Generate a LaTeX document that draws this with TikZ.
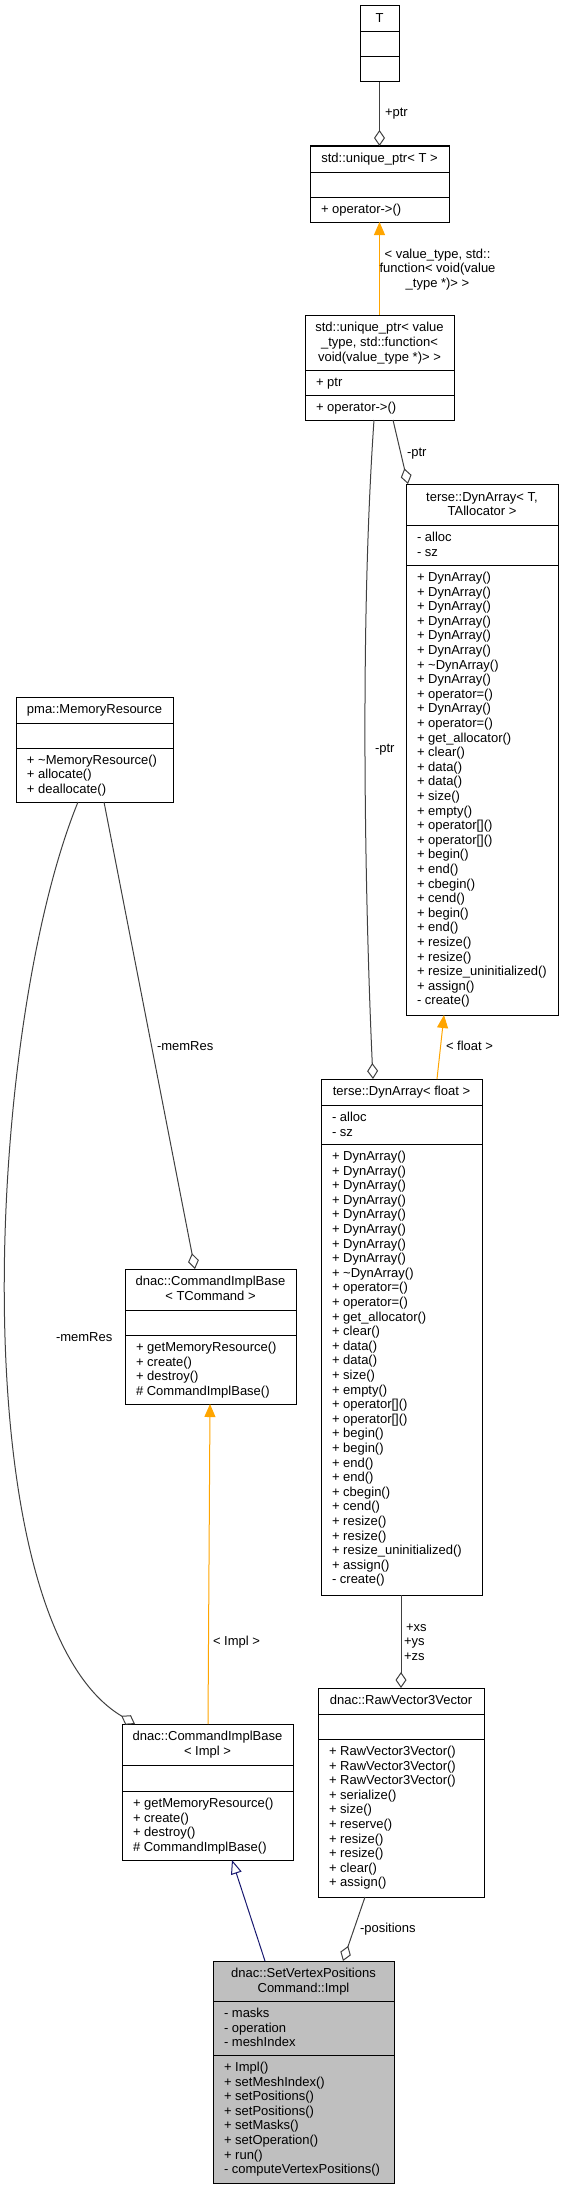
\documentclass[tikz,border=0pt]{standalone}
\usepackage{fontspec}
\setmainfont{Liberation Sans}
\usetikzlibrary{arrows.meta,calc}
\definecolor{dgray}{HTML}{404040}
\definecolor{orng}{HTML}{FFA500}
\definecolor{navy}{HTML}{191970}
\definecolor{svgray}{HTML}{BFBFBF}
\newcommand{\fs}{\fontsize{13}{14.6}\selectfont}
\newcounter{lc}
\tikzset{
  lbl/.style={inner sep=0pt, outer sep=0pt, font=\fs, anchor=base west},
  ctr/.style={lbl, anchor=base},
  umlbox/.style={draw=black, line width=1pt, inner sep=0pt, outer sep=0pt},
  conn/.style={draw=dgray, line width=1pt},
  agg/.style={conn, -{Diamond[open, length=16pt, width=11pt]}},
  tmpl/.style={draw=orng, line width=1pt, -{Triangle[length=13pt, width=11pt, fill=orng]}},
  inh/.style={draw=navy, line width=1pt, -{Triangle[open, length=14pt, width=11pt]}},
}
% name, x1, y1, x2, y2, sep1, sep2, fill
\newcommand{\cls}[8]{%
  \node[umlbox, fill=#8, minimum width={(#4-#2)*1pt}, minimum height={(#5-#3)*1pt}] (#1) at ({(#2+#4)/2},{(#3+#5)/2}) {};
  \draw[line width=1pt] (#1.west |- 0,#6) -- (#1.east |- 0,#6);
  \draw[line width=1pt] (#1.west |- 0,#7) -- (#1.east |- 0,#7);
}
\newcommand{\ttl}[3]{\stepcounter{lc}\node[ctr] (l\arabic{lc}) at (#1,#2) {#3};}
\newcommand{\mem}[3]{\stepcounter{lc}\node[lbl] (l\arabic{lc}) at (#1,#2) {#3};}
% x, first baseline, list
\newcommand{\lines}[3]{%
  \foreach \s [count=\i from 0] in {#3} {%
    \stepcounter{lc}%
    \node[lbl] (l\arabic{lc}) at (#1,{#2+\i*14.6}) {\s};
  }%
}
\begin{document}
\begin{tikzpicture}[x=1pt, y=-1pt]
\useasboundingbox (0,0) rectangle (564,2189);

% T
\cls{T}{360}{6}{399}{82}{32}{57}{white}
\ttl{379.5}{22.5}{T}

% std::unique_ptr< T >
\cls{uT}{310}{146}{449}{222}{172}{197}{white}
\ttl{379.5}{162.5}{std::unique\_ptr< T >}
\mem{321}{213.5}{+ operator->()}

% std::unique_ptr< value_type, ... >
\cls{uV}{305}{315}{454}{420}{370}{395}{white}
\ttl{379.5}{331}{std::unique\_ptr< value}
\ttl{379.5}{346}{\_type, std::function<}
\ttl{379.5}{361}{void(value\_type *)> >}
\mem{316}{386}{+ ptr}
\mem{316}{411}{+ operator->()}

% terse::DynArray< T, TAllocator >
\cls{dT}{406}{484}{558}{1015}{525}{565}{white}
\ttl{482}{501}{terse::DynArray< T,}
\ttl{482}{515.5}{TAllocator >}
\lines{417}{541.5}{{- alloc},{- sz}}
\lines{417}{581.5}{{+ DynArray()},{+ DynArray()},{+ DynArray()},{+ DynArray()},{+ DynArray()},{+ DynArray()},{+ \textasciitilde DynArray()},{+ DynArray()},{+ operator=()},{+ DynArray()},{+ operator=()},{+ get\_allocator()},{+ clear()},{+ data()},{+ data()},{+ size()},{+ empty()},{+ operator[]()},{+ operator[]()},{+ begin()},{+ end()},{+ cbegin()},{+ cend()},{+ begin()},{+ end()},{+ resize()},{+ resize()},{+ resize\_uninitialized()},{+ assign()},{- create()}}

% pma::MemoryResource
\cls{pma}{16}{697}{173}{802}{723}{748}{white}
\ttl{94.5}{713.5}{pma::MemoryResource}
\lines{27}{764}{{+ \textasciitilde MemoryResource()},{+ allocate()},{+ deallocate()}}

% terse::DynArray< float >
\cls{dF}{321}{1079}{482}{1595}{1105}{1144}{white}
\ttl{401.5}{1095.5}{terse::DynArray< float >}
\lines{332}{1121.5}{{- alloc},{- sz}}
\lines{332}{1160.5}{{+ DynArray()},{+ DynArray()},{+ DynArray()},{+ DynArray()},{+ DynArray()},{+ DynArray()},{+ DynArray()},{+ DynArray()},{+ \textasciitilde DynArray()},{+ operator=()},{+ operator=()},{+ get\_allocator()},{+ clear()},{+ data()},{+ data()},{+ size()},{+ empty()},{+ operator[]()},{+ operator[]()},{+ begin()},{+ begin()},{+ end()},{+ end()},{+ cbegin()},{+ cend()},{+ resize()},{+ resize()},{+ resize\_uninitialized()},{+ assign()},{- create()}}

% dnac::CommandImplBase< TCommand >
\cls{cT}{125}{1269}{296}{1404}{1310}{1335}{white}
\ttl{210.5}{1285.5}{dnac::CommandImplBase}
\ttl{210.5}{1300}{< TCommand >}
\lines{136}{1351.5}{{+ getMemoryResource()},{+ create()},{+ destroy()},{\# CommandImplBase()}}

% dnac::CommandImplBase< Impl >
\cls{cI}{122}{1724}{293}{1860}{1765}{1791}{white}
\ttl{207.5}{1740.5}{dnac::CommandImplBase}
\ttl{207.5}{1755}{< Impl >}
\lines{133}{1807.5}{{+ getMemoryResource()},{+ create()},{+ destroy()},{\# CommandImplBase()}}

% dnac::RawVector3Vector
\cls{rv}{318}{1688}{484}{1897}{1714}{1739}{white}
\ttl{401}{1704.5}{dnac::RawVector3Vector}
\lines{329}{1755.5}{{+ RawVector3Vector()},{+ RawVector3Vector()},{+ RawVector3Vector()},{+ serialize()},{+ size()},{+ reserve()},{+ resize()},{+ resize()},{+ clear()},{+ assign()}}

% dnac::SetVertexPositionsCommand::Impl
\cls{sv}{213}{1961}{394}{2183}{2001}{2055}{svgray}
\ttl{303.5}{1977.5}{dnac::SetVertexPositions}
\ttl{303.5}{1992}{Command::Impl}
\lines{224}{2017.5}{{- masks},{- operation},{- meshIndex}}
\lines{224}{2071.5}{{+ Impl()},{+ setMeshIndex()},{+ setPositions()},{+ setPositions()},{+ setMasks()},{+ setOperation()},{+ run()},{- computeVertexPositions()}}

% ---- connectors ----
\draw[agg] (T.south) -- (uT.north);
\mem{385}{117}{+ptr}

\draw[tmpl] (uV.north) -- (uT.south);
\ttl{437.5}{258}{< value\_type, std::}
\ttl{437.5}{272.5}{function< void(value}
\ttl{437.5}{287}{\_type *)> >}

\draw[agg] ($(uV.south west)+(88,0)$) -- ($(dT.north west)+(2,0)$);
\mem{407}{456.5}{-ptr}

\draw[agg] ($(uV.south west)+(69,0)$) .. controls (358,650) and (367,950) .. ($(dF.north west)+(52,0)$);
\mem{375}{752.5}{-ptr}

\draw[tmpl] ($(dF.north west)+(116,0)$) -- ($(dT.south west)+(38,0)$);
\mem{446}{1050.5}{< float >}

\draw[agg] ($(pma.south west)+(88,0)$) -- ($(cT.north west)+(70,0)$);
\mem{157}{1050.5}{-memRes}

\draw[agg] ($(pma.south west)+(62,0)$) .. controls (-15,1030) and (-40,1620) .. ($(cI.north west)+(13,0)$);
\mem{56}{1341}{-memRes}

\draw[tmpl] ($(cI.north west)+(86,0)$) -- ($(cT.south west)+(85,0)$);
\mem{213}{1645}{< Impl >}

\draw[agg] ($(dF.south west)+(80,0)$) -- ($(rv.north west)+(83,0)$);
\mem{406}{1631}{+xs}
\mem{404}{1645.5}{+ys}
\mem{404}{1660}{+zs}

\draw[agg] ($(rv.south west)+(47,0)$) -- ($(sv.north west)+(130,0)$);
\mem{360}{1932}{-positions}

\draw[inh] ($(sv.north west)+(52,0)$) -- ($(cI.south west)+(110,0)$);
\end{tikzpicture}
\end{document}
